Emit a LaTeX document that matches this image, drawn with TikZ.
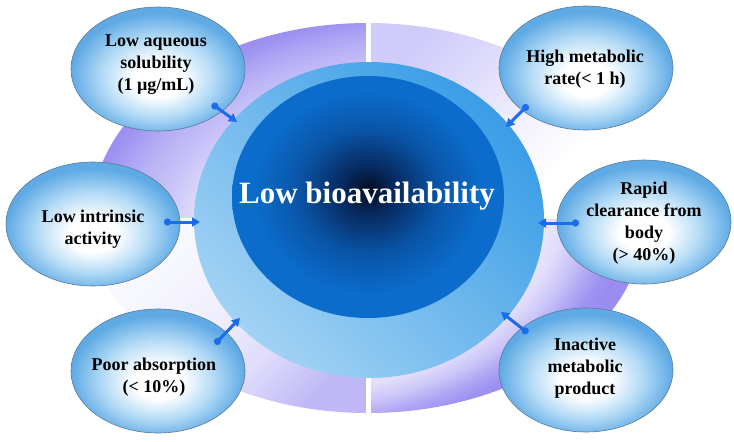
\documentclass[tikz,border=0pt]{standalone}
\usepackage{fontspec}
\setmainfont{Liberation Serif}
\usetikzlibrary{shapes.geometric,arrows.meta,calc}
\definecolor{rP}{HTML}{9A8CF0}
\definecolor{tlA}{HTML}{E2DFFB}
\definecolor{tlB}{HTML}{C8C2F8}
\definecolor{tlC}{HTML}{BCB4F6}
\definecolor{tlD}{HTML}{ADA3F4}
\definecolor{tlE}{HTML}{9F93F1}
\definecolor{brA}{HTML}{EEECFD}
\definecolor{brB}{HTML}{E2DEFB}
\definecolor{brC}{HTML}{CCC6F8}
\definecolor{brD}{HTML}{B0A6F4}
\definecolor{brE}{HTML}{9E92F1}
\definecolor{trA}{HTML}{D0CCFA}
\definecolor{trB}{HTML}{DCD8FB}
\definecolor{trC}{HTML}{F4F3FE}
\definecolor{blA}{HTML}{BCB4F5}
\definecolor{blB}{HTML}{C0B8F6}
\definecolor{blC}{HTML}{D8D4FA}
\definecolor{blD}{HTML}{E0DCFA}
\definecolor{blE}{HTML}{EEEDFD}
\definecolor{blF}{HTML}{F6F6FE}
\definecolor{haloD}{HTML}{3A9DE6}
\definecolor{haloL}{HTML}{A2D2F4}
\definecolor{coreC}{HTML}{020D22}
\definecolor{coreC2}{HTML}{072A60}
\definecolor{coreM}{HTML}{0A55A8}
\definecolor{coreE}{HTML}{0B6CCB}
\definecolor{blobM}{HTML}{B4DBF6}
\definecolor{blobE}{HTML}{5FAAE5}
\definecolor{blobLine}{HTML}{5B7A96}
\definecolor{connC}{HTML}{1A6CEC}
\pgfdeclareradialshading{qTL}{\pgfpointorigin}{color(0bp)=(tlA); color(14.2bp)=(tlA); color(16.7bp)=(tlB); color(18.3bp)=(tlC); color(19.7bp)=(tlD); color(20.8bp)=(tlE); color(21.7bp)=(rP); color(50bp)=(rP)}
\pgfdeclareradialshading{qBR}{\pgfpointorigin}{color(0bp)=(brA); color(15bp)=(brA); color(16.7bp)=(brB); color(18bp)=(brC); color(19.2bp)=(brD); color(20.2bp)=(brE); color(21bp)=(rP); color(50bp)=(rP)}
\pgfdeclareverticalshading{qTR}{100bp}{color(0bp)=(white); color(35bp)=(white); color(45.5bp)=(trC); color(64.5bp)=(trB); color(75bp)=(trA); color(100bp)=(trA)}
\pgfdeclareverticalshading{qBL}{100bp}{color(0bp)=(blA); color(25bp)=(blB); color(35.5bp)=(blC); color(39bp)=(blD); color(50bp)=(blE); color(64.5bp)=(blF); color(100bp)=(white)}
\pgfdeclareradialshading{coreshade}{\pgfpoint{0bp}{1.5bp}}{color(0bp)=(coreC); color(5bp)=(coreC2); color(13bp)=(coreM); color(21bp)=(coreE); color(25bp)=(coreE); color(50bp)=(coreE)}
\pgfdeclareradialshading{blobshade}{\pgfpoint{0bp}{-5bp}}{color(0bp)=(white); color(7bp)=(white); color(16bp)=(blobM); color(25bp)=(blobE); color(50bp)=(blobE)}
\begin{document}
\begin{tikzpicture}[x=1pt,y=-1pt,
  blob/.style={ellipse, shade, shading=blobshade, draw=blobLine, line width=0.6pt,
    minimum width=174pt, minimum height=124pt, inner sep=0pt},
  txt/.style={align=center, font=\fontsize{18}{22}\selectfont\bfseries, text=black, inner sep=0pt},
  conn/.style={draw=connC, line width=3pt, arrows={Circle[length=7pt,width=7pt]-Triangle[length=8pt,width=9pt]}}]
\fill[white] (0,0) rectangle (734,442);
\useasboundingbox (0,0) rectangle (734,442);
% background ring quadrants
\begin{scope}
  \clip (368,218) ellipse [x radius=277, y radius=195];
  \begin{scope}
    \clip (91,23) rectangle (368,218);
    \shade[shading=qTL] (11.2,-33.2) rectangle (842.2,551.8);
  \end{scope}
  \begin{scope}
    \clip (368,218) rectangle (645,413);
    \shade[shading=qBR] (-130.6,-94) rectangle (700.4,491);
  \end{scope}
  \shade[shading=qTR, shading angle=45] (368,23) rectangle (645,218);
  \shade[shading=qBL, shading angle=45] (91,218) rectangle (368,413);
\end{scope}
\fill[white] (366,15) rectangle (371,420);
% central circles
\shade[top color=haloD, bottom color=haloL, shading angle=-45] (369,220) ellipse [x radius=175, y radius=158];
\shade[shading=coreshade] (368,197) ellipse [x radius=136, y radius=121];
\node[font=\fontsize{31}{36}\selectfont\bfseries, text=white, inner sep=0pt] (title) at (367,196) {Low bioavailability};
% satellites
\node[blob] (e1) at (158,69) {};
\node[blob] (e2) at (586,68) {};
\node[blob] (e3) at (93,224) {};
\node[blob] (e4) at (644,222) {};
\node[blob] (e5) at (158,371) {};
\node[blob] (e6) at (586,370) {};
\node[txt] (t1) at (156,65) {Low aqueous\\solubility\\(1 µg/mL)};
\node[txt] (t2) at (585,69) {High metabolic\\rate(< 1 h)};
\node[txt] (t3) at (93,229) {Low intrinsic\\activity};
\node[txt] (t4) at (644,223) {Rapid\\clearance from\\body\\(> 40\%)};
\node[txt] (t5) at (154,377) {Poor absorption\\(< 10\%)};
\node[txt] (t6) at (585,368) {Inactive\\metabolic\\product};
% connectors
\coordinate (c1a) at (212,104); \coordinate (c1b) at (237,122);
\coordinate (c2a) at (528,105); \coordinate (c2b) at (506,127);
\coordinate (c3a) at (164,222); \coordinate (c3b) at (200,222);
\coordinate (c4a) at (579,223); \coordinate (c4b) at (538,223);
\coordinate (c5a) at (215,344); \coordinate (c5b) at (240,318);
\coordinate (c6a) at (528,333); \coordinate (c6b) at (501,312);
\draw[conn] (c1a) -- (c1b);
\draw[conn] (c2a) -- (c2b);
\draw[conn] (c3a) -- (c3b);
\draw[conn] (c4a) -- (c4b);
\draw[conn] (c5a) -- (c5b);
\draw[conn] (c6a) -- (c6b);
\end{tikzpicture}
\end{document}
